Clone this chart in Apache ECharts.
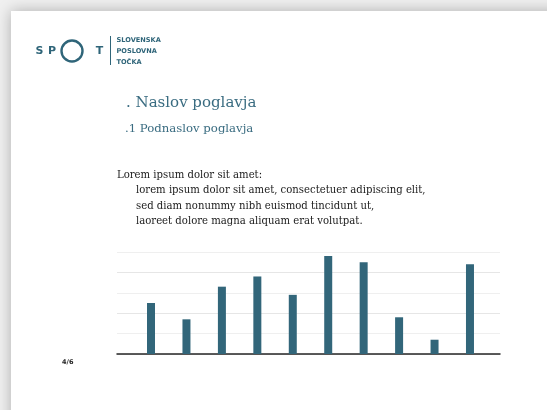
<!DOCTYPE html>
<html>
<head>
<meta charset="utf-8">
<style>
  html, body { margin: 0; padding: 0; background: #f0f0f0; }
  #page { width: 547px; height: 410px; }
</style>
<script src="https://cdn.jsdelivr.net/npm/echarts@6/dist/echarts.min.js"></script>
</head>
<body>
<div id="page"></div>
<script>
// Bar chart data for the chapter page
const categories = ['1', '2', '3', '4', '5', '6', '7', '8', '9', '10'];
const barValues = [25, 17, 33, 38, 29, 48, 45, 18, 7, 44];
const yTicks = [0, 10, 20, 30, 40, 50];

// Page texts
const logoLines = ['SLOVENSKA', 'POSLOVNA', 'TOČKA'];
const chapterTitle = '. Naslov poglavja';
const sectionTitle = '.1 Podnaslov poglavja';
const introLine = 'Lorem ipsum dolor sit amet:';
const bodyLines = [
  'lorem ipsum dolor sit amet, consectetuer adipiscing elit,',
  'sed diam nonummy nibh euismod tincidunt ut,',
  'laoreet dolore magna aliquam erat volutpat.'
];
const pageNumber = '4/6';

const teal = '#2f6579';
const barColor = '#32667a';
const headColor = '#3a6c81';
const serif = '"DejaVu Serif", "Liberation Serif", serif';
const sans = '"DejaVu Sans", "Open Sans", sans-serif';

const chart = echarts.init(document.getElementById('page'), null, { renderer: 'canvas' });

const graphics = [
  // white sheet with a soft drop shadow
  {
    type: 'rect', z: -10, silent: true,
    shape: { x: 11, y: 11, width: 580, height: 440 },
    style: { fill: '#ffffff', shadowBlur: 14, shadowColor: 'rgba(0,0,0,0.28)' }
  },
  // logo: S P O T
  { type: 'text', x: 39.5, y: 51, style: { text: 'S', font: 'bold 11px ' + sans, fill: teal, textAlign: 'center', textVerticalAlign: 'middle' } },
  { type: 'text', x: 52, y: 51, style: { text: 'P', font: 'bold 11px ' + sans, fill: teal, textAlign: 'center', textVerticalAlign: 'middle' } },
  { type: 'circle', shape: { cx: 72, cy: 51, r: 10.5 }, style: { fill: 'none', stroke: teal, lineWidth: 2.4 } },
  { type: 'text', x: 99.5, y: 51, style: { text: 'T', font: 'bold 11px ' + sans, fill: teal, textAlign: 'center', textVerticalAlign: 'middle' } },
  { type: 'line', shape: { x1: 110.5, y1: 36, x2: 110.5, y2: 65 }, style: { stroke: teal, lineWidth: 1 } }
];

logoLines.forEach(function (t, i) {
  graphics.push({
    type: 'text', x: 116.5, y: 40 + i * 11,
    style: { text: t, font: 'bold 6.6px ' + sans, fill: teal, textVerticalAlign: 'middle' }
  });
});

graphics.push(
  { type: 'text', x: 126, y: 103.5, style: { text: chapterTitle, font: '15px ' + serif, fill: headColor, textVerticalAlign: 'middle' } },
  { type: 'text', x: 125, y: 129, style: { text: sectionTitle, font: '11.7px ' + serif, fill: headColor, textVerticalAlign: 'middle' } },
  { type: 'text', x: 117, y: 175, style: { text: introLine, font: '10.1px ' + serif, fill: '#1a1a1a', textVerticalAlign: 'middle' } }
);
bodyLines.forEach(function (t, i) {
  graphics.push({
    type: 'text', x: 136, y: 190.5 + i * 15.5,
    style: { text: t, font: '10.1px ' + serif, fill: '#1a1a1a', textVerticalAlign: 'middle' }
  });
});
graphics.push({
  type: 'text', x: 62, y: 362,
  style: { text: pageNumber, font: 'bold 6.5px ' + sans, fill: '#222', textVerticalAlign: 'middle' }
});

chart.setOption({
  backgroundColor: '#f0f0f0',
  animation: false,
  graphic: graphics,
  grid: [
    // frame with the horizontal guide lines and the base line
    { left: 117, right: 47, top: 252, bottom: 56 },
    // bars
    { left: 133.3, right: 59.3, top: 252, bottom: 56 }
  ],
  xAxis: [
    {
      gridIndex: 0, type: 'value', min: 0, max: 1,
      axisLine: { show: true, lineStyle: { color: '#262626', width: 1.5 } },
      axisTick: { show: false }, axisLabel: { show: false }, splitLine: { show: false }
    },
    {
      gridIndex: 1, type: 'category', data: categories,
      axisLine: { show: false }, axisTick: { show: false }, axisLabel: { show: false }
    }
  ],
  yAxis: [
    {
      gridIndex: 0, type: 'value', min: yTicks[0], max: yTicks[yTicks.length - 1], interval: yTicks[1] - yTicks[0],
      axisLine: { show: false }, axisTick: { show: false }, axisLabel: { show: false },
      splitLine: { show: true, lineStyle: { color: ['#e6e6e6', '#efefef'], width: 1.2 } }
    },
    {
      gridIndex: 1, type: 'value', min: yTicks[0], max: yTicks[yTicks.length - 1], interval: yTicks[1] - yTicks[0],
      axisLine: { show: false }, axisTick: { show: false }, axisLabel: { show: false },
      splitLine: { show: false }
    }
  ],
  series: [
    {
      type: 'bar', xAxisIndex: 1, yAxisIndex: 1,
      data: barValues, barWidth: 8,
      itemStyle: { color: barColor },
      z: 1
    }
  ]
});
</script>
</body>
</html>
